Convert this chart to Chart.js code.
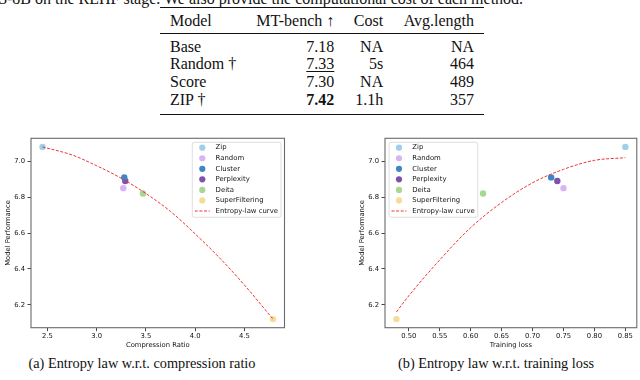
<!DOCTYPE html>
<html>
<head>
<meta charset="utf-8">
<script src="https://cdn.jsdelivr.net/npm/chart.js@4.4.1/dist/chart.umd.min.js"></script>
<style>
  html, body { margin: 0; padding: 0; background: #fff; }
  body { width: 640px; height: 380px; position: relative; overflow: hidden;
         font-family: "Liberation Serif", "DejaVu Serif", serif; color: #111; }
  .abs { position: absolute; white-space: nowrap; }
  .serif16 { font-size: 16px; line-height: 16px; }
  .rule { position: absolute; left: 160px; width: 324px; background: #111; }
  .chartbox { position: absolute; top: 130px; height: 225px; }
  .caption { font-size: 14.3px; line-height: 14.3px; transform: translateX(-50%); }
  .ul { text-decoration: underline; text-decoration-thickness: 1px; text-underline-offset: 2px; }
</style>
</head>
<body>
<div class="abs serif16" style="left:-1px; top:-8.9px;">3-8B on the RLHF stage. We also provide the computational cost of each method.</div>
<div class="rule" style="top:6.7px; height:1.3px;"></div>
<div class="rule" style="top:33px; height:0.7px;"></div>
<div class="rule" style="top:113.6px; height:1.3px;"></div>
<div id="table"></div>

<div class="chartbox" style="left:0; width:300px;"><canvas id="left"></canvas></div>
<div class="chartbox" style="left:354px; width:286px;"><canvas id="right"></canvas></div>

<div class="abs caption" style="left:142px; top:356px;">(a) Entropy law w.r.t. compression ratio</div>
<div class="abs caption" style="left:496px; top:356px;">(b) Entropy law w.r.t. training loss</div>

<script>
// table values
const tableHeader = ['Model', 'MT-bench ↑', 'Cost', 'Avg.length'];
const tableModels = ['Base', 'Random †', 'Score', 'ZIP †'];
const mtBench = [7.18, 7.33, 7.30, 7.42];
const costs = ['NA', '5s', 'NA', '1.1h'];
const avgLength = ['NA', '464', '489', '357'];

// chart values
const methods = ['Zip', 'Random', 'Cluster', 'Perplexity', 'Deita', 'SuperFiltering'];
const methodColors = ['#9fd0ea', '#d7b5f4', '#3f86c4', '#7c52aa', '#a6d890', '#f4dd9a'];
const performance = [7.08, 6.85, 6.91, 6.89, 6.82, 6.12];
const compressionRatio = [2.45, 3.27, 3.28, 3.29, 3.47, 4.79];
const trainingLoss = [0.85, 0.75, 0.73, 0.74, 0.62, 0.48];

// entropy-law curves
const ratioCurveX = [2.45, 2.75, 3.0, 3.25, 3.5, 3.75, 4.0, 4.25, 4.5, 4.79];
const ratioCurveY = [7.08, 7.035, 6.975, 6.905, 6.82, 6.72, 6.595, 6.46, 6.31, 6.12];
const lossCurveX = [0.48, 0.50, 0.55, 0.60, 0.65, 0.70, 0.75, 0.80, 0.85];
const lossCurveY = [6.16, 6.25, 6.45, 6.63, 6.77, 6.88, 6.955, 7.005, 7.02];

const perfTicks = [6.2, 6.4, 6.6, 6.8, 7.0];
const ratioTicks = [2.5, 3.0, 3.5, 4.0, 4.5];
const lossTicks = [0.50, 0.55, 0.60, 0.65, 0.70, 0.75, 0.80, 0.85];


// build the table
function buildTable() {
    const holder = document.getElementById('table');
    const rightEdges = [null, 334.3, 383.2, 474];
    const ranked = [...mtBench].sort((a, b) => b - a);

    function cell(text, col, top, cls) {
        const d = document.createElement('div');
        d.className = 'abs serif16' + (cls ? ' ' + cls : '');
        d.style.top = top + 'px';
        if (col === 0) d.style.left = '170px';
        else d.style.right = (640 - rightEdges[col]) + 'px';
        d.textContent = text;
        holder.appendChild(d);
    }

    tableHeader.forEach((h, c) => cell(h, c, 12.6));
    tableModels.forEach((m, i) => {
        const top = 38.75 + i * 17.7;
        let cls = '';
        if (mtBench[i] === ranked[0]) cls = 'bold';
        else if (mtBench[i] === ranked[1]) cls = 'ul';
        cell(m, 0, top);
        cell(mtBench[i].toFixed(2), 1, top, cls);
        cell(costs[i], 2, top);
        cell(avgLength[i], 3, top);
    });
    holder.querySelectorAll('.bold').forEach(e => e.style.fontWeight = 'bold');
}
buildTable();


// plot frame around the chart area
const framePlugin = {
    id: 'frame',
    afterDraw(chart) {
        const a = chart.chartArea, ctx = chart.ctx;
        ctx.save();
        ctx.strokeStyle = '#6a6a6a';
        ctx.lineWidth = 1.1;
        ctx.strokeRect(a.left, a.top, a.right - a.left, a.bottom - a.top);
        ctx.restore();
    }
};

// matplotlib-like legend box inside the axes
const boxLegendPlugin = {
    id: 'boxLegend',
    afterDraw(chart, args, opts) {
        const a = chart.chartArea, ctx = chart.ctx;
        const items = chart.data.datasets;
        ctx.save();
        ctx.font = '6.9px "DejaVu Sans"';
        const textW = Math.max(...items.map(d => ctx.measureText(d.label).width));
        const w = 23.3 + textW + 3;
        const rowH = 10.55;
        const h = (items.length - 1) * rowH + 11.7;
        const left = opts.side === 'right' ? a.right - 3.5 - w : a.left + 4;
        const top = a.top + 4;

        ctx.beginPath();
        ctx.roundRect(left, top, w, h, 2);
        ctx.fillStyle = 'rgba(255,255,255,0.8)';
        ctx.fill();
        ctx.strokeStyle = '#d6d6d6';
        ctx.lineWidth = 0.8;
        ctx.stroke();

        items.forEach((d, i) => {
            const y = top + 5.4 + i * rowH;
            if (d.showLine) {
                ctx.beginPath();
                ctx.setLineDash(d.borderDash);
                ctx.strokeStyle = d.borderColor;
                ctx.lineWidth = d.borderWidth;
                ctx.moveTo(left + 2.5, y);
                ctx.lineTo(left + 17.5, y);
                ctx.stroke();
                ctx.setLineDash([]);
            } else {
                ctx.beginPath();
                ctx.arc(left + 10, y, 3.1, 0, Math.PI * 2);
                ctx.fillStyle = d.backgroundColor;
                ctx.fill();
            }
            ctx.fillStyle = '#151515';
            ctx.textBaseline = 'middle';
            ctx.textAlign = 'left';
            ctx.fillText(d.label, left + 23.3, y);
        });
        ctx.restore();
    }
};


function makeChart(canvasId, xValues, curveX, curveY, xTicks, xDigits, xMin, xMax, xTitle, legendSide, padRight) {
    const tickFont = { family: '"DejaVu Sans"', size: 6.8 };

    const datasets = methods.map((m, i) => ({
        label: m,
        data: [{ x: xValues[i], y: performance[i] }],
        backgroundColor: methodColors[i],
        borderWidth: 0,
        pointRadius: 3.2,
        pointHoverRadius: 3.2
    }));
    datasets.push({
        label: 'Entropy-law curve',
        data: curveX.map((x, i) => ({ x: x, y: curveY[i] })),
        showLine: true,
        borderColor: '#ee3434',
        borderWidth: 1,
        borderDash: [3, 1.6],
        pointRadius: 0,
        cubicInterpolationMode: 'monotone',
        fill: false,
        order: -1
    });

    return new Chart(document.getElementById(canvasId), {
        type: 'scatter',
        data: { datasets: datasets },
        plugins: [framePlugin, boxLegendPlugin],
        options: {
            responsive: true,
            maintainAspectRatio: false,
            animation: false,
            devicePixelRatio: 1,
            layout: { padding: { top: 8.3, right: padRight, left: 0, bottom: 0 } },
            plugins: {
                legend: { display: false },
                tooltip: { enabled: false },
                boxLegend: { side: legendSide }
            },
            scales: {
                x: {
                    type: 'linear',
                    min: xMin,
                    max: xMax,
                    afterBuildTicks: s => { s.ticks = xTicks.map(v => ({ value: v })); },
                    afterFit: s => { s.height = 27.3; },
                    border: { display: false },
                    grid: { drawOnChartArea: false, drawTicks: true, tickLength: 3.5, color: '#333', lineWidth: 0.9 },
                    ticks: { padding: 1, color: '#111', font: tickFont, maxRotation: 0, autoSkip: false,
                             callback: v => v.toFixed(xDigits) },
                    title: { display: true, text: xTitle, color: '#111', font: tickFont,
                             padding: { top: 0, bottom: 5.2 } }
                },
                y: {
                    type: 'linear',
                    min: 6.072,
                    max: 7.128,
                    afterBuildTicks: s => { s.ticks = perfTicks.map(v => ({ value: v })); },
                    afterFit: s => { s.width = 31; },
                    border: { display: false },
                    grid: { drawOnChartArea: false, drawTicks: true, tickLength: 3.5, color: '#333', lineWidth: 0.9 },
                    ticks: { padding: 2.5, color: '#111', font: tickFont, autoSkip: false,
                             callback: v => v.toFixed(1) },
                    title: { display: true, text: 'Model Performance', color: '#111', font: tickFont,
                             padding: { top: 4.2, bottom: 0 } }
                }
            }
        }
    });
}

makeChart('left', compressionRatio, ratioCurveX, ratioCurveY, ratioTicks, 1, 2.333, 4.907, 'Compression Ratio', 'right', 15.5);
makeChart('right', trainingLoss, lossCurveX, lossCurveY, lossTicks, 2, 0.4615, 0.8685, 'Training loss', 'left', 1);
</script>
</body>
</html>
